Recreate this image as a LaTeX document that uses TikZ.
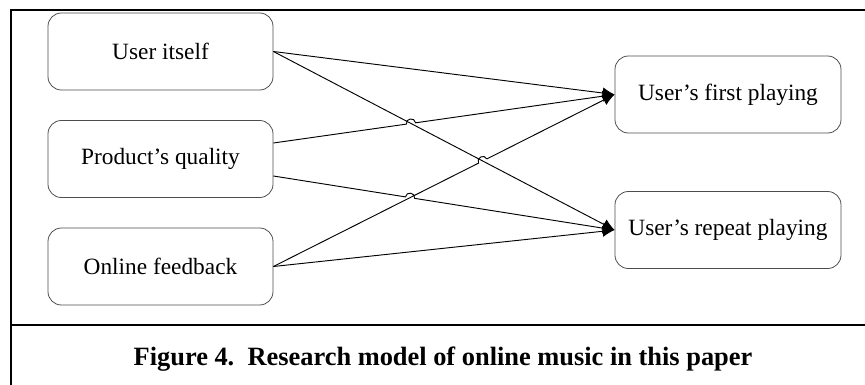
\documentclass[tikz,border=0pt]{standalone}
\usepackage{fontspec}
\setmainfont{Liberation Serif}
\usetikzlibrary{calc,arrows.meta}
\begin{document}
\begin{tikzpicture}[x=0.75pt,y=-0.75pt,
  box/.style={draw=black!70, line width=0.6pt, rounded corners=10pt, minimum width=168.75pt, minimum height=57.75pt, inner sep=0pt, font=\fontsize{17.5}{20}\selectfont},
  conn/.style={line width=0.7pt, -{Latex[length=9pt,width=8.5pt]}},
  frame/.style={line width=1.8pt}]
\useasboundingbox (0,0) rectangle (865,385);
\draw[frame] (11,390) -- (11,10) -- (870,10);
\draw[frame] (11,325) -- (870,325);

\node[box] (u) at (160.5,51.5) {User itself};
\node[box] (p) at (160.5,159) {Product’s quality};
\node[box] (o) at (160.5,266.5) {Online feedback};
\node[box, minimum width=169.5pt] (f) at (728,94.5) {User’s first playing};
\node[box, minimum width=169.5pt] (r) at (728,230) {User’s repeat playing};

\coordinate (p1) at ($(p.east)+(0,-16)$);
\coordinate (p2) at ($(p.east)+(0,17)$);
\coordinate (x1) at (intersection of u.east--r.west and p1--f.west);
\coordinate (x2) at (intersection of u.east--r.west and o.east--f.west);
\coordinate (x3) at (intersection of p2--r.west and o.east--f.west);

\draw[conn] (u.east) -- (f.west);
\draw[conn] (u.east) -- (r.west);
\draw[conn] (o.east) -- (r.west);

\path ($(x1)!3.5pt!(p1)$) coordinate (a1) ($(x1)!3.5pt!(f.west)$) coordinate (b1);
\draw[conn] (p1) -- (a1) .. controls ($(a1)!4.5pt!90:(b1)$) and ($(b1)!4.5pt!-90:(a1)$) .. (b1) -- (f.west);

\path ($(x2)!3.5pt!(o.east)$) coordinate (a2) ($(x2)!3.5pt!(f.west)$) coordinate (b2);
\draw[conn] (o.east) -- (a2) .. controls ($(a2)!4.5pt!90:(b2)$) and ($(b2)!4.5pt!-90:(a2)$) .. (b2) -- (f.west);

\path ($(x3)!3.5pt!(p2)$) coordinate (a4) ($(x3)!3.5pt!(r.west)$) coordinate (b4);
\draw[conn] (p2) -- (a4) .. controls ($(a4)!4.5pt!90:(b4)$) and ($(b4)!4.5pt!-90:(a4)$) .. (b4) -- (r.west);

\node[font=\bfseries\fontsize{19.8}{22}\selectfont, anchor=base] (cap) at (443,365) {Figure 4.\ \ Research model of online music in this paper};
\end{tikzpicture}
\end{document}
